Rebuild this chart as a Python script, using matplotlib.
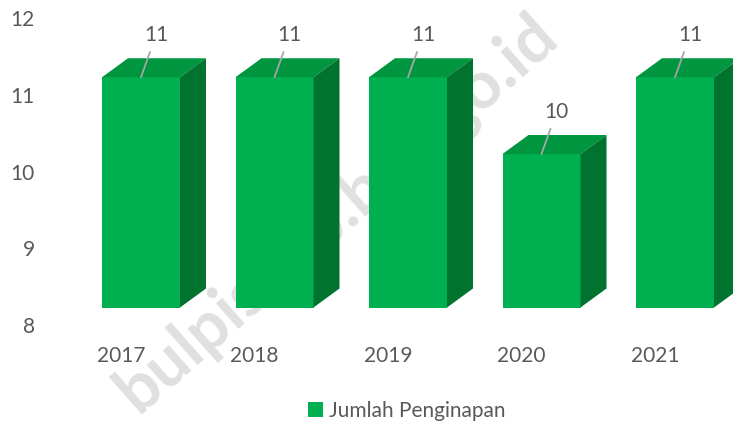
import matplotlib
matplotlib.use("Agg")
import matplotlib.pyplot as plt
from matplotlib.patches import Polygon, Patch

years = ["2017", "2018", "2019", "2020", "2021"]
values = [11, 11, 11, 10, 11]
series_name = "Jumlah Penginapan"
yticks = [8, 9, 10, 11, 12]

plt.rcParams['font.family'] = ['Lato', 'DejaVu Sans']
TXT = "#595959"
FRONT = "#00B050"
TOP = "#00953F"
SIDE = "#00732F"
FS = 15

W, H, DPI = 733, 426, 100
fig = plt.figure(figsize=(W / DPI, H / DPI), dpi=DPI)
# axes in pixel terms
L, R, B, T = 75, 733, 101, 408   # bottom/top measured from figure bottom
ax = fig.add_axes([L / W, B / H, (R - L) / W, (T - B) / H])
px_x = 133.5            # pixels per category
x0 = -(121 - L) / px_x
ax.set_xlim(x0, x0 + (R - L) / px_x)
ax.set_ylim(8, 12)
px_y = (T - B) / 4.0

# style geometry (in data units)
front_off = 20 / px_x
half_w = 39 / px_x
depth_x = 26 / px_x
depth_y = 19 / px_y
lift = 17.5 / px_y
base = 8

# watermark (behind bars)
ax.text(337 / W, 1 - 213 / H, "bulpiskab.bps.go.id", transform=fig.transFigure,
        fontsize=48, fontweight='bold', color='#E0E0E0', rotation=41.5,
        ha='center', va='center', zorder=0)

for i, v in enumerate(values):
    xl = i + front_off - half_w
    xr = i + front_off + half_w
    yb = base + lift
    yt = v + lift
    front = Polygon([(xl, yb), (xr, yb), (xr, yt), (xl, yt)], closed=True,
                    facecolor=FRONT, edgecolor='none', zorder=3, clip_on=False)
    top = Polygon([(xl, yt), (xr, yt), (xr + depth_x, yt + depth_y), (xl + depth_x, yt + depth_y)],
                  closed=True, facecolor=TOP, edgecolor='none', zorder=3, clip_on=False)
    side = Polygon([(xr, yb), (xr + depth_x, yb + depth_y), (xr + depth_x, yt + depth_y), (xr, yt)],
                   closed=True, facecolor=SIDE, edgecolor='none', zorder=3, clip_on=False)
    for p in (front, top, side):
        ax.add_patch(p)
    ax.annotate(str(v), xy=(i + front_off, yt), xycoords='data',
                xytext=(15, 42), textcoords='offset pixels',
                ha='center', va='center', fontsize=FS, color=TXT, zorder=5,
                arrowprops=dict(arrowstyle='-', color='#A6A6A6', lw=1.3,
                                shrinkA=3, shrinkB=0))

ax.set_xticks(range(len(years)))
ax.set_xticklabels(years, fontsize=FS, color=TXT)
ax.set_yticks(yticks)
ax.set_yticklabels([str(t) for t in yticks], fontsize=FS, color=TXT)
ax.tick_params(axis='y', length=0, pad=29)
ax.tick_params(axis='x', length=0, pad=15)
for s in ax.spines.values():
    s.set_visible(False)
ax.patch.set_alpha(0)

fig.legend(handles=[Patch(facecolor=FRONT, edgecolor='none', label=series_name)],
           loc='center', bbox_to_anchor=(407 / W, 1 - 411 / H), frameon=False,
           fontsize=FS, labelcolor=TXT, handlelength=0.7, handleheight=0.7,
           handletextpad=0.3)

fig.savefig("out.png", dpi=DPI, facecolor='white')
